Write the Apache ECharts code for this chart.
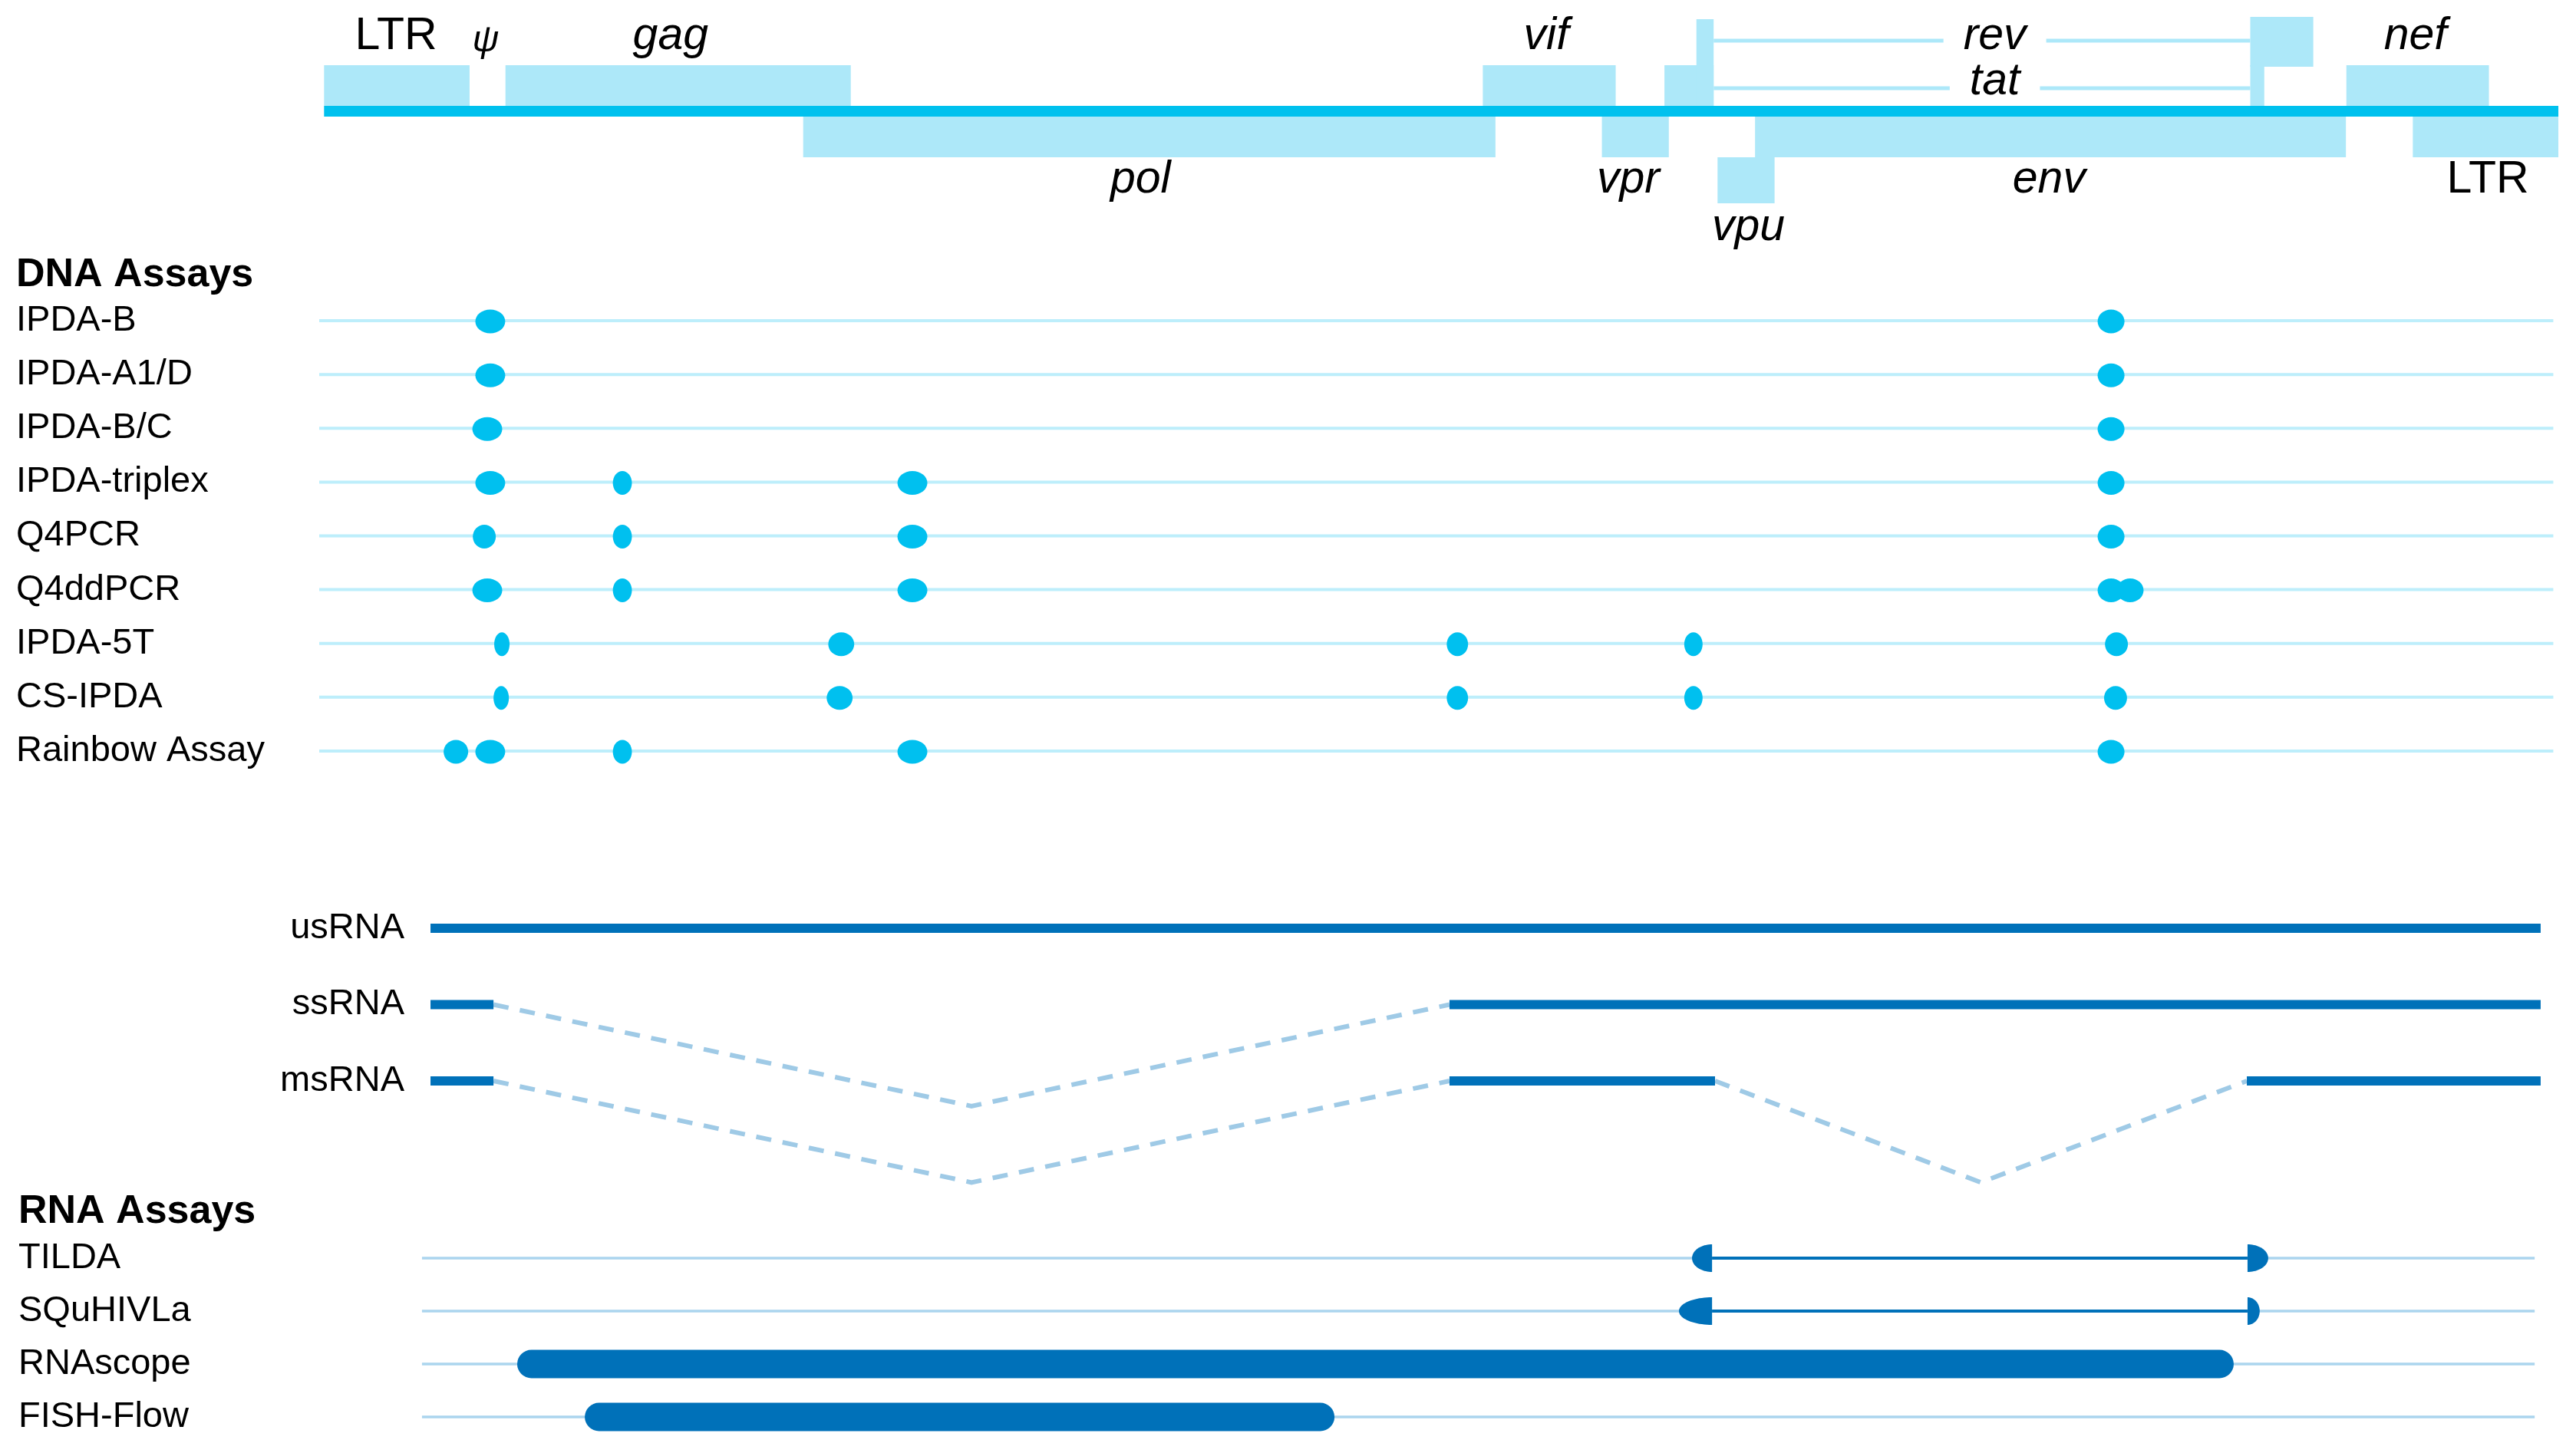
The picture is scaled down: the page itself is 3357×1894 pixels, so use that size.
<!DOCTYPE html>
<html><head><meta charset="utf-8">
<script src="https://cdn.jsdelivr.net/npm/echarts@6/dist/echarts.min.js"></script>
<style>html,body{margin:0;padding:0;background:#fff}#c{width:3357px;height:1894px}</style>
</head><body><div id="c"></div>
<script>
// ================= DATA (HXB2 genome coordinates, bp) =================
const genomeLength = 9719;
const geneNames  = ['5LTR','gag','pol','vif','vpr','tat-1','rev-1','vpu','env','tat-2','rev-2','nef','3LTR'];
const geneStart  = [1,   790, 2085, 5041, 5559, 5831, 5970, 6062, 6225, 8379, 8379, 8797, 9086];
const geneEnd    = [634, 2292, 5096, 5619, 5850, 6045, 6045, 6310, 8795, 8440, 8653, 9417, 9719];
const geneFrame  = ['upper','upper','lower','upper','lower','upper','tall','lower2','lower','upper','top','upper','lower'];
const spliceLinks = [['rev', 6045, 8379], ['tat', 6045, 8379]];
const geneLabelText = ['LTR','ψ','gag','vif','rev','tat','nef','pol','vpr','env','LTR','vpu'];
const geneLabelPos  = [314, 704, 1508, 5317, 7268, 7268, 9097, 3552, 5674, 7504, 9412, 6196];

const dnaAssays = ['IPDA-B','IPDA-A1/D','IPDA-B/C','IPDA-triplex','Q4PCR','Q4ddPCR','IPDA-5T','CS-IPDA','Rainbow Assay'];
const ipdaB       = [[659,789],[7715,7832]];
const ipdaA1D     = [[659,789],[7715,7832]];
const ipdaBC      = [[646,776],[7715,7832]];
const ipdaTriplex = [[659,789],[1257,1340],[2495,2625],[7715,7832]];
const q4pcr       = [[648,748],[1257,1340],[2495,2625],[7715,7832]];
const q4ddpcr     = [[646,776],[1257,1340],[2495,2625],[7715,7832],[7798,7915]];
const ipda5T      = [[741,808],[2194,2307],[4884,4977],[5917,5997],[7747,7847]];
const csIpda      = [[738,805],[2187,2300],[4884,4977],[5917,5997],[7743,7843]];
const rainbow     = [[521,628],[659,789],[1257,1340],[2495,2625],[7715,7832]];
const dnaTargets  = [ipdaB, ipdaA1D, ipdaBC, ipdaTriplex, q4pcr, q4ddpcr, ipda5T, csIpda, rainbow];

const transcriptNames = ['usRNA','ssRNA','msRNA'];
const usRnaExons = [[464,9642]];
const ssRnaExons = [[464,738],[4896,9642]];
const msRnaExons = [[464,738],[4896,6051],[8364,9642]];
const transcriptExons = [usRnaExons, ssRnaExons, msRnaExons];

const rnaAssays = ['TILDA','SQuHIVLa','RNAscope','FISH-Flow'];
const tildaPrimers    = [[5951,6038],[8367,8457]];
const squhivlaPrimers = [[5894,6038],[8367,8420]];
const rnascopeProbes  = [841, 8307];
const fishFlowProbes  = [1135, 4396];

// ================= STYLE / LAYOUT =================
const FONT = '"Liberation Sans", Arial, Helvetica, sans-serif';
const C = { bar:'#00c1ee', gene:'#ade8f9', dot:'#00c0ef', dnaTrack:'#bdeefb',
            rna:'#0071b9', intron:'#9fcae6', rnaTrack:'#abd5ee', text:'#000' };
const GRID_L = 422, GRID_R = 23;
const LANES = {top:[22,87], upper:[85,138], tall:[25,138], lower:[152,205], lower2:[205,265]};
const GENOME_BAR = [138,152];
const LABEL_ROW = ['above','psi','above','above','above','tat','above','below','below','below','below','below2'];
const LABEL_Y = {above:48, psi:54, tat:107, below:235, below2:297};
const LABEL_SIZE = {psi:48};
const PLAIN_LABELS = new Set(['LTR']);
const SPLICE_Y = {rev:53, tat:115};
const DNA_TRACK_SPAN = [-20, 9697];
const RNA_TRACK_SPAN = [427, 9616];
const DOT_RY = 15.5, CAP_RY = 18, BAR_H = 37, EXON_W = 12, INTRON_DEPTH = 1.33;

function ellipsePts(cx, cy, rx, ry, t0, t1, n){
  const pts=[]; for(let k=0;k<=n;k++){const t=t0+(t1-t0)*k/n; pts.push([cx+rx*Math.cos(t), cy+ry*Math.sin(t)]);} return pts;
}

const chart = echarts.init(document.getElementById('c'), null, {renderer:'canvas'});

const catAxis = (gi, data, margin) => ({type:'category', gridIndex:gi, data, inverse:true,
  axisLine:{show:false}, axisTick:{show:false}, splitLine:{show:false},
  axisLabel:{interval:0, align:'left', margin, fontSize:47, fontFamily:FONT, color:C.text}});

const option = {
  animation:false,
  backgroundColor:'#fff',
  grid:[
    {left:GRID_L, right:GRID_R, top:0, height:300},
    {left:GRID_L, right:GRID_R, top:383, height:631},
    {left:GRID_L, right:GRID_R, top:1110.5, height:497.5},
    {left:GRID_L, right:GRID_R, top:1605.5, height:276}
  ],
  xAxis:[0,1,2,3].map(i=>({type:'value', gridIndex:i, min:0, max:genomeLength, show:false})),
  yAxis:[
    {type:'value', gridIndex:0, min:0, max:300, inverse:true, show:false},
    catAxis(1, dnaAssays, 401),
    {type:'value', gridIndex:2, min:-1, max:4, interval:1, inverse:true, offset:-113,
     axisLine:{show:false}, axisTick:{show:false}, splitLine:{show:false},
     axisLabel:{formatter:v=>transcriptNames[v]||'', margin:8, fontSize:47, fontFamily:FONT, color:C.text}},
    catAxis(3, rnaAssays, 398)
  ],
  graphic:[
    {type:'text', x:21, y:359, style:{text:'DNA Assays', font:'bold 52px '+FONT, fill:C.text, verticalAlign:'middle'}},
    {type:'text', x:24, y:1580, style:{text:'RNA Assays', font:'bold 52px '+FONT, fill:C.text, verticalAlign:'middle'}}
  ],
  series:[
    // genome backbone
    {type:'custom', xAxisIndex:0, yAxisIndex:0, z:3, data:[[1, genomeLength, 0]], encode:{x:[0,1], y:2},
     renderItem:(p, api)=>{const a=api.coord([api.value(0), GENOME_BAR[0]]), b=api.coord([api.value(1), GENOME_BAR[1]]);
       return {type:'rect', shape:{x:a[0], y:a[1], width:b[0]-a[0], height:b[1]-a[1]}, style:{fill:C.bar}};}},
    // genes
    {type:'custom', xAxisIndex:0, yAxisIndex:0, z:2, data:geneStart.map((s,i)=>[s, geneEnd[i], 0]), encode:{x:[0,1], y:2},
     renderItem:(p, api)=>{const lane=LANES[geneFrame[p.dataIndex]];
       const a=api.coord([api.value(0), lane[0]]), b=api.coord([api.value(1), lane[1]]);
       return {type:'rect', shape:{x:a[0], y:a[1], width:b[0]-a[0], height:b[1]-a[1]}, style:{fill:C.gene}};}},
    // tat/rev splice connectors
    {type:'custom', xAxisIndex:0, yAxisIndex:0, z:2, data:spliceLinks.map(s=>[s[1], s[2], 0]), encode:{x:[0,1], y:2},
     renderItem:(p, api)=>{const y=SPLICE_Y[spliceLinks[p.dataIndex][0]];
       const a=api.coord([api.value(0), y]), b=api.coord([api.value(1), y]);
       return {type:'line', shape:{x1:a[0], y1:a[1], x2:b[0], y2:b[1]}, style:{stroke:C.gene, lineWidth:5}};}},
    // gene labels
    {type:'custom', xAxisIndex:0, yAxisIndex:0, z:5, data:geneLabelPos.map(x=>[x, 0]), encode:{x:0, y:1},
     renderItem:(p, api)=>{const i=p.dataIndex, t=geneLabelText[i], row=LABEL_ROW[i];
       const pt=api.coord([api.value(0), LABEL_Y[row]]);
       const isSplice = (t==='rev'||t==='tat');
       const st={text:t, x:pt[0], y:pt[1], align:'center', verticalAlign:'middle', fill:C.text,
         font:(PLAIN_LABELS.has(t)?'':'italic ')+(LABEL_SIZE[row]||59)+'px '+FONT};
       if(isSplice){st.backgroundColor='#fff'; st.padding=[0,26]; st.lineHeight=30;}
       return {type:'text', style:st};}},
    // DNA assay tracks
    {type:'custom', xAxisIndex:1, yAxisIndex:1, z:1, data:dnaAssays.map((_,i)=>[0,i]), encode:{x:0, y:1},
     renderItem:(p, api)=>{const a=api.coord([DNA_TRACK_SPAN[0], api.value(1)]), b=api.coord([DNA_TRACK_SPAN[1], api.value(1)]);
       return {type:'line', shape:{x1:a[0], y1:a[1], x2:b[0], y2:b[1]}, style:{stroke:C.dnaTrack, lineWidth:4}};}},
    // DNA assay targets
    {type:'custom', xAxisIndex:1, yAxisIndex:1, z:3,
     data:[].concat(...dnaTargets.map((arr,r)=>arr.map(t=>[t[0], t[1], r]))), encode:{x:[0,1], y:2},
     renderItem:(p, api)=>{const a=api.coord([api.value(0), api.value(2)]), b=api.coord([api.value(1), api.value(2)]);
       return {type:'ellipse', shape:{cx:(a[0]+b[0])/2, cy:a[1]+1, rx:(b[0]-a[0])/2, ry:DOT_RY}, style:{fill:C.dot}};}},
    // transcripts
    {type:'custom', xAxisIndex:2, yAxisIndex:2, z:3, data:transcriptNames.map((_,i)=>[464, i]), encode:{x:0, y:1},
     renderItem:(p, api)=>{const r=p.dataIndex, ex=transcriptExons[r], ch=[];
       for(let k=0;k<ex.length-1;k++){
         const s=ex[k][1], e=ex[k+1][0];
         const pts=[api.coord([s,r]), api.coord([(s+e)/2, r+INTRON_DEPTH]), api.coord([e,r])];
         ch.push({type:'polyline', shape:{points:pts}, style:{stroke:C.intron, lineWidth:6, lineDash:[20,15], fill:null}});
       }
       ex.forEach(seg=>{const a=api.coord([seg[0],r]), b=api.coord([seg[1],r]);
         ch.push({type:'line', shape:{x1:a[0], y1:a[1], x2:b[0], y2:b[1]}, style:{stroke:C.rna, lineWidth:EXON_W}});});
       return {type:'group', children:ch};}},
    // RNA assay tracks
    {type:'custom', xAxisIndex:3, yAxisIndex:3, z:1, data:rnaAssays.map((_,i)=>[0,i]), encode:{x:0, y:1},
     renderItem:(p, api)=>{const a=api.coord([RNA_TRACK_SPAN[0], api.value(1)]), b=api.coord([RNA_TRACK_SPAN[1], api.value(1)]);
       return {type:'line', shape:{x1:a[0], y1:a[1], x2:b[0], y2:b[1]}, style:{stroke:C.rnaTrack, lineWidth:3.5}};}},
    // RNA assays: primer/amplicon assays
    {type:'custom', xAxisIndex:3, yAxisIndex:3, z:3,
     data:[tildaPrimers, squhivlaPrimers].map((pr,r)=>[pr[0][0], pr[1][1], r]), encode:{x:[0,1], y:2},
     renderItem:(p, api)=>{const pr=[tildaPrimers, squhivlaPrimers][p.dataIndex], r=api.value(2);
       const l0=api.coord([pr[0][0], r]), l1=api.coord([pr[0][1], r]), r0=api.coord([pr[1][0], r]), r1=api.coord([pr[1][1], r]);
       const cy=l0[1];
       return {type:'group', children:[
         {type:'line', shape:{x1:l1[0], y1:cy, x2:r0[0], y2:cy}, style:{stroke:C.rna, lineWidth:4}},
         {type:'polygon', shape:{points:ellipsePts(l1[0], cy, l1[0]-l0[0], CAP_RY, Math.PI/2, 3*Math.PI/2, 40)}, style:{fill:C.rna}},
         {type:'polygon', shape:{points:ellipsePts(r0[0], cy, r1[0]-r0[0], CAP_RY, -Math.PI/2, Math.PI/2, 40)}, style:{fill:C.rna}}
       ]};}},
    // RNA assays: probe sets
    {type:'custom', xAxisIndex:3, yAxisIndex:3, z:3,
     data:[[rnascopeProbes[0], rnascopeProbes[1], 2],[fishFlowProbes[0], fishFlowProbes[1], 3]], encode:{x:[0,1], y:2},
     renderItem:(p, api)=>{const a=api.coord([api.value(0), api.value(2)]), b=api.coord([api.value(1), api.value(2)]);
       return {type:'rect', shape:{x:a[0], y:a[1]-BAR_H/2, width:b[0]-a[0], height:BAR_H, r:BAR_H/2}, style:{fill:C.rna}};}}
  ]
};
chart.setOption(option);
</script></body></html>
